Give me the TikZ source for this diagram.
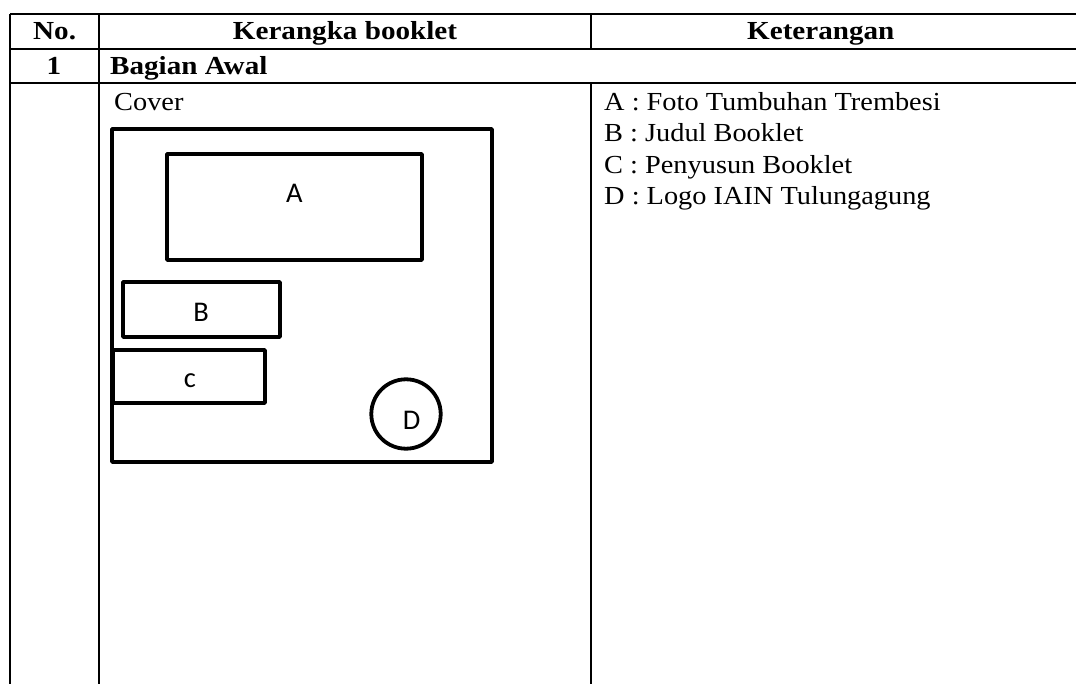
\documentclass[tikz,border=0pt]{standalone}
\usepackage{fontspec}
\setmainfont{Liberation Serif}[FakeStretch=1.09]
\newfontfamily\hdrfont{Liberation Serif}[FakeStretch=1.12]
\newfontfamily\lblfont{Carlito}
\begin{document}
\begin{tikzpicture}[x=1pt,y=-1pt,
  rule/.style={line width=2pt},
  frame/.style={line width=3.8pt,line join=round},
  hdr/.style={inner sep=0pt,font=\hdrfont\bfseries\fontsize{26}{31}\selectfont},
  body/.style={inner sep=0pt,anchor=base west,font=\fontsize{26}{31}\selectfont},
  lbl/.style={inner sep=0pt,font=\lblfont\fontsize{28.5}{34}\selectfont}]
\useasboundingbox (0,0) rectangle (1076,684);
% table grid
\coordinate (tl) at (10,14);
\coordinate (tr) at (1076,14);
\coordinate (h1l) at (10,49.3);
\coordinate (h1r) at (1076,49.3);
\coordinate (h2l) at (10,83.3);
\coordinate (h2r) at (1076,83.3);
\coordinate (bl) at (10,684);
\coordinate (c1t) at (99.3,14);
\coordinate (c1b) at (99.3,684);
\coordinate (c2t) at (590.5,14);
\coordinate (c2m) at (590.5,49.3);
\coordinate (c2n) at (590.5,83.3);
\coordinate (c2b) at (590.5,684);
\draw[rule] (tl) -- (tr);
\draw[rule] (h1l) -- (h1r);
\draw[rule] (h2l) -- (h2r);
\draw[rule] (tl) -- (bl);
\draw[rule] (c1t) -- (c1b);
\draw[rule] (c2t) -- (c2m);
\draw[rule] (c2n) -- (c2b);
% header texts
\node[hdr,anchor=base west] (no) at (33,40) {No.};
\node[hdr,anchor=base] (kb) at (345,40) {Kerangka booklet};
\node[hdr,anchor=base west] (ket) at (747,40) {Keterangan};
\node[hdr,anchor=base] (one) at (54,75) {1};
\node[hdr,anchor=base west] (ba) at (110,75) {Bagian Awal};
% body texts
\node[body] (cover) at (114,110.7) {Cover};
\node[body] (la) at (604,110.7) {A : Foto Tumbuhan Trembesi};
\node[body] (lb) at (604,141.7) {B : Judul Booklet};
\node[body] (lc) at (604,173.3) {C : Penyusun Booklet};
\node[body] (ld) at (604,205) {D : Logo IAIN Tulungagung};
% cover sketch
\draw[frame] (112,129) rectangle (492,462);
\draw[frame] (167,154) rectangle (422,260);
\draw[frame] (123,282) rectangle (280,337);
\draw[frame] (113,350) rectangle (265,403);
\draw[frame] (406,414) circle[radius=34.7];
\node[lbl] (A) at (294.3,193.3) {A};
\node[lbl] (B) at (201,312.7) {B};
\node[lbl] (C) at (190,381) {c};
\node[lbl] (D) at (411.7,420) {D};
\end{tikzpicture}
\end{document}
